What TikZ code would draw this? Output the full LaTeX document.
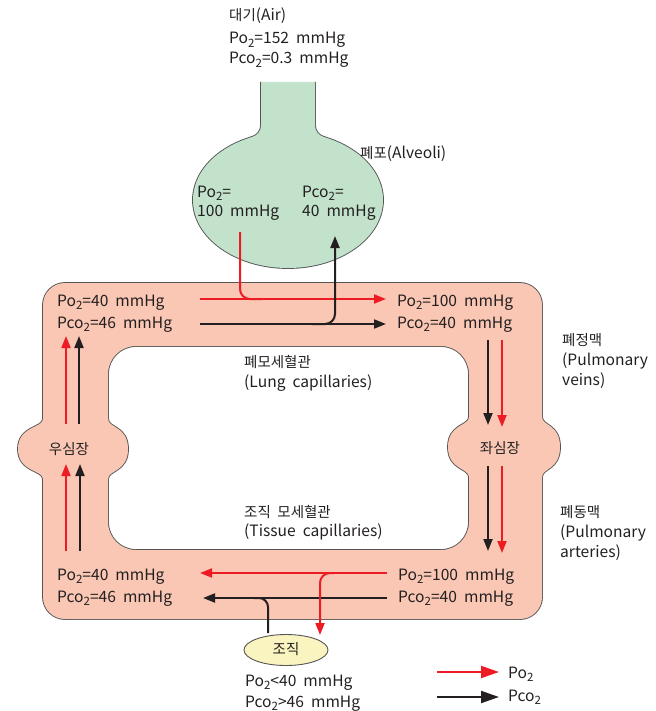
\documentclass[tikz,border=0pt]{standalone}
\usepackage{fontspec}
\setmainfont{Noto Sans CJK KR}
\newfontfamily\krfont{Noto Sans CJK KR}[Scale=0.93]
\usetikzlibrary{arrows.meta,shapes.geometric}

\definecolor{bloodpink}{RGB}{249,199,180}
\definecolor{alvgreen}{RGB}{194,226,204}
\definecolor{tissueyellow}{RGB}{250,245,192}
\definecolor{edgegray}{RGB}{85,85,85}
\definecolor{oxred}{RGB}{237,28,36}
\definecolor{coblack}{RGB}{35,31,32}

% Hangul set a little smaller than the Latin text
\newcommand\kr[1]{{\krfont #1}}
% subscript two for the gas partial pressures
\newcommand\subtwo{\raisebox{-0.4ex}{\fontsize{11.5}{11.5}\selectfont 2}}
\newcommand\POtwo{Po\subtwo}
\newcommand\PCOtwo{Pco\subtwo}
\newcommand\gap{\hspace{0.45em}}

\tikzset{
  lbl/.style={anchor=west, inner sep=0pt, text=coblack,
    font=\fontsize{15.6}{18}\selectfont, text height=11pt, text depth=3pt},
  clbl/.style={lbl, anchor=center},
  flowred/.style={oxred, line width=2pt},
  flowblack/.style={coblack, line width=2pt},
  o2/.style={flowred, -{Triangle[length=12pt,width=9pt]}},
  co2/.style={flowblack, -{Triangle[length=12pt,width=9pt]}},
  o2key/.style={flowred, -{Triangle[length=18pt,width=12pt]}},
  co2key/.style={flowblack, -{Triangle[length=18pt,width=12pt]}},
  rim/.style={draw=edgegray, line width=1.8pt},
}

\begin{document}
\begin{tikzpicture}[x=1pt,y=-1pt]
\useasboundingbox (0,0) rectangle (655,711);

% ---------- alveolus: union outline by stroking first, then filling ----------
\def\alvball{(288,200) ellipse [x radius=95, y radius=68]}
\def\alvneck{(250,138) .. controls (258,135) and (261,132) .. (261,124) -- (261,82)
   -- (315,82) -- (315,124) .. controls (315,132) and (318,135) .. (326,138)
   -- (288,170) -- cycle}
\path[rim] \alvball;
\draw[rim] (250,138) .. controls (258,135) and (261,132) .. (261,124) -- (261,82);
\draw[rim] (326,138) .. controls (318,135) and (315,132) .. (315,124) -- (315,82);
\fill[alvgreen] \alvball;
\fill[alvgreen] \alvneck;

% ---------- blood loop with the two hearts ----------
\def\loopouter{[rounded corners=22pt] (43,283) rectangle (542,619)}
\def\loopinner{[rounded corners=28pt] (108,346) rectangle (469,550)}
\def\rheart{(43,419) .. controls (43,428) and (18,426) .. (18,449)
   .. controls (18,472) and (43,470) .. (43,479) -- (108,479)
   .. controls (108,470) and (128,472) .. (128,449)
   .. controls (128,426) and (108,428) .. (108,419) -- cycle}
\def\lheart{(469,417) .. controls (469,426) and (448,424) .. (448,447)
   .. controls (448,470) and (469,468) .. (469,477) -- (542,477)
   .. controls (542,468) and (560,470) .. (560,447)
   .. controls (560,424) and (542,426) .. (542,417) -- cycle}
\path[rim] \loopouter \loopinner;
\path[rim] \rheart;
\path[rim] \lheart;
\fill[bloodpink, even odd rule] \loopouter \loopinner;
\fill[bloodpink] \rheart;
\fill[bloodpink] \lheart;

% tissue
\node[ellipse, draw=edgegray, line width=0.9pt, fill=tissueyellow,
  minimum width=84pt, minimum height=31pt, inner sep=0pt] (tissue) at (286,650) {};
\node[clbl] (tissuetxt) at (tissue.center) {\kr{조직}};

% hearts' labels
\node[clbl] (rh) at (69,450) {\kr{우심장}};
\node[clbl] (lh) at (500,449) {\kr{좌심장}};

% ---------- texts ----------
\node[lbl] (air1) at (229,17) {\kr{대기}(Air)};
\node[lbl] (air2) at (229,40) {\POtwo=152\gap mmHg};
\node[lbl] (air3) at (229,60) {\PCOtwo=0.3\gap mmHg};
\node[lbl] (alvname) at (360,155) {\kr{폐포}(Alveoli)};
\node[lbl] (alv1) at (197,193) {\POtwo=};
\node[lbl] (alv2) at (197,213) {100\gap mmHg};
\node[lbl] (alv3) at (302,193) {\PCOtwo=};
\node[lbl] (alv4) at (302,213) {40\gap mmHg};

\node[lbl] (tl1) at (57,302) {\POtwo=40\gap mmHg};
\node[lbl] (tl2) at (57,324) {\PCOtwo=46\gap mmHg};
\node[lbl] (tr1) at (397,302) {\POtwo=100\gap mmHg};
\node[lbl] (tr2) at (397,324) {\PCOtwo=40\gap mmHg};

\node[lbl] (lc1) at (244,363) {\kr{폐모세혈관}};
\node[lbl] (lc2) at (244,383) {(Lung\gap capillaries)};
\node[lbl] (pv1) at (562,341) {\kr{폐정맥}};
\node[lbl] (pv2) at (562,361) {(Pulmonary};
\node[lbl] (pv3) at (562,381) {veins)};

\node[lbl] (tc1) at (244,513) {\kr{조직\gap 모세혈관}};
\node[lbl] (tc2) at (244,532) {(Tissue\gap capillaries)};
\node[lbl] (pa1) at (560,513) {\kr{폐동맥}};
\node[lbl] (pa2) at (560,533) {(Pulmonary};
\node[lbl] (pa3) at (560,553) {arteries)};

\node[lbl] (bl1) at (57,576) {\POtwo=40\gap mmHg};
\node[lbl] (bl2) at (57,598) {\PCOtwo=46\gap mmHg};
\node[lbl] (br1) at (398,576) {\POtwo=100\gap mmHg};
\node[lbl] (br2) at (398,598) {\PCOtwo=40\gap mmHg};

\node[lbl] (ts1) at (245,682) {\POtwo<40\gap mmHg};
\node[lbl] (ts2) at (245,703) {\PCOtwo>46\gap mmHg};

% ---------- gas flow ----------
% lungs: O2 taken up, CO2 given off
\coordinate (lungin) at (200,299);
\coordinate (lungout) at (386,299);
\coordinate (lungcin) at (200,324);
\coordinate (lungcout) at (386,324);
\draw[o2] (lungin) -- (lungout);
\draw[flowred, rounded corners=10pt] (240,232) |- (262,299);
\draw[co2] (lungcin) -- (lungcout);
\draw[co2, rounded corners=10pt] (312,324) -| (335,236);

% pulmonary veins into the left heart
\draw[co2] (488,340) -- (488,425);
\draw[o2] (502,340) -- (502,427);
% left heart out towards the tissue
\draw[co2] (488,466) -- (488,551);
\draw[o2] (502,466) -- (502,553);

% tissue capillaries
\draw[o2] (387,573) -- (200,573);
\draw[co2] (387,598) -- (203,598);
\draw[o2, rounded corners=10pt] (334,573) -| (320,635);
\draw[flowblack, rounded corners=9pt] (268,633) |- (254,598);

% back up to the right heart and on to the lungs
\draw[o2] (66,551) -- (66,464);
\draw[co2] (80,551) -- (80,464);
\draw[o2] (66,424) -- (66,336);
\draw[co2] (79,424) -- (79,336);

% ---------- key ----------
\coordinate (k1a) at (437,672);
\coordinate (k1b) at (499,672);
\coordinate (k2a) at (437,697);
\coordinate (k2b) at (499,697);
\draw[o2key] (k1a) -- (k1b);
\draw[co2key] (k2a) -- (k2b);
\node[lbl] (key1) at (508,674) {\POtwo};
\node[lbl] (key2) at (508,697) {\PCOtwo};
\end{tikzpicture}
\end{document}
